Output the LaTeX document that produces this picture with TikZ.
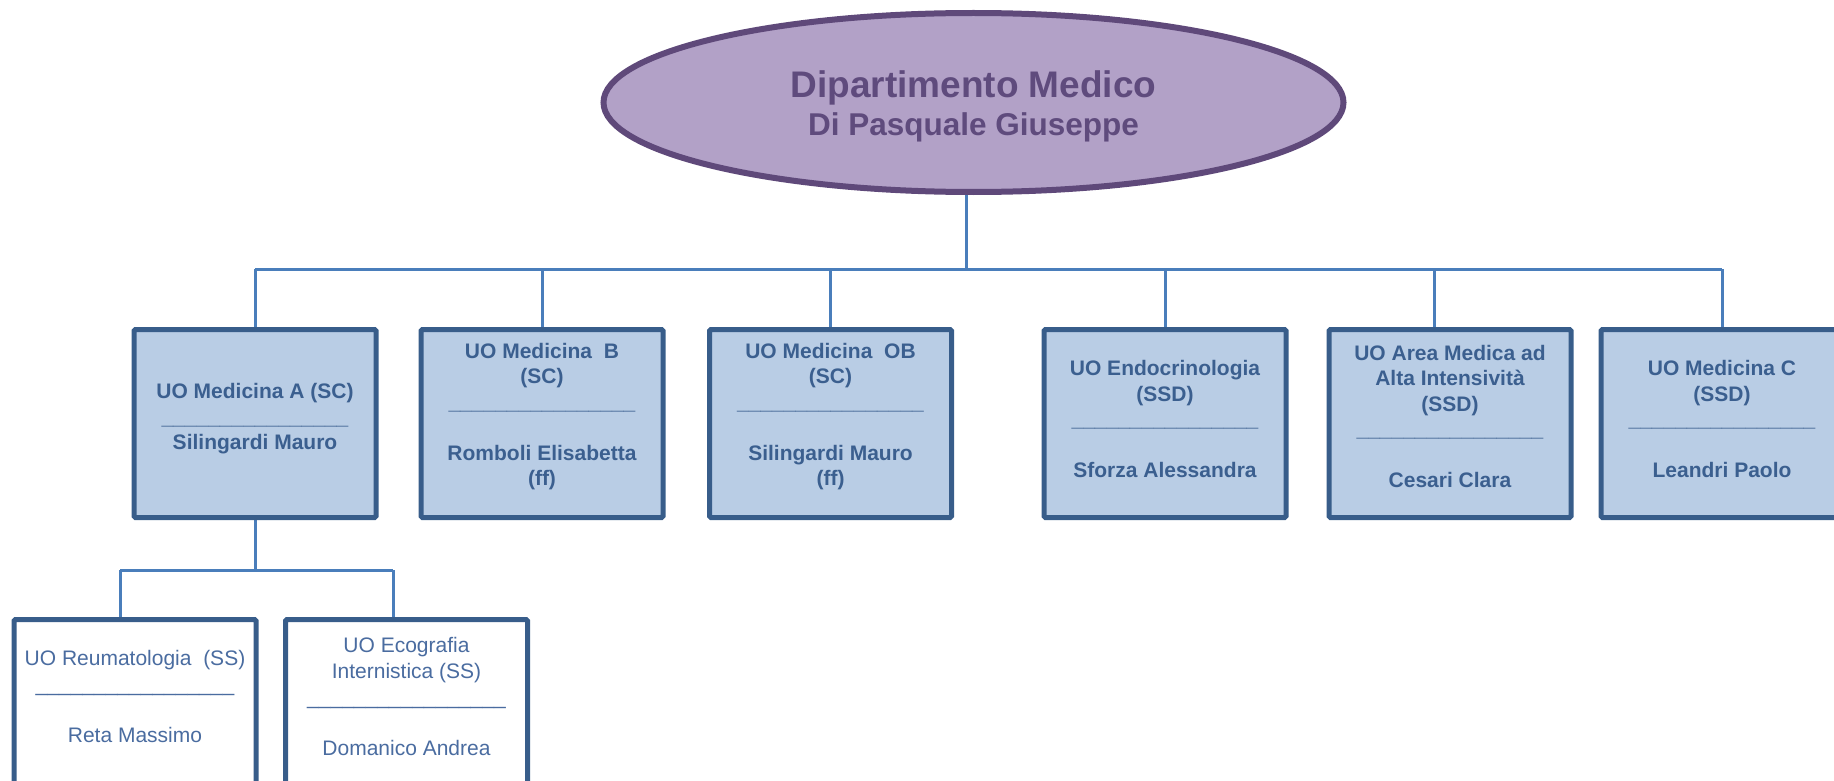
\documentclass[tikz,border=0pt]{standalone}
\usepackage{fontspec}
\setmainfont{Liberation Sans}
\usetikzlibrary{shapes.geometric,backgrounds}
\definecolor{ellfill}{HTML}{B2A1C7}
\definecolor{elldraw}{HTML}{5F497A}
\definecolor{elltext}{HTML}{5F4B7D}
\definecolor{boxfill}{HTML}{B9CDE5}
\definecolor{boxdraw}{HTML}{385D8A}
\definecolor{boxtext}{HTML}{3B5F8F}
\definecolor{subtext}{HTML}{4A6CA0}
\definecolor{conn}{HTML}{4A7EBB}
\newcommand\sepXVI{\_\_\_\_\_\_\_\_\_\_\_\_\_\_\_\_}
\newcommand\sepXVII{\_\_\_\_\_\_\_\_\_\_\_\_\_\_\_\_\_}
\begin{document}
\begin{tikzpicture}[x=1pt,y=-1pt,
  unitbox/.style={draw=boxdraw,line width=5pt,fill=boxfill,minimum width=242pt,minimum height=188pt,inner sep=0pt,rounded corners=1.5pt},
  subbox/.style={unitbox,fill=white},
  boxtxt/.style={text=boxtext,font=\fontsize{21}{25.5}\selectfont\bfseries,align=center,inner sep=0pt},
  subtxt/.style={text=subtext,font=\fontsize{21}{25.7}\selectfont,align=center,inner sep=0pt},
  link/.style={draw=conn,line width=3pt}]
\useasboundingbox (0,0) rectangle (1834,781);
\clip (0,0) rectangle (1834,781);
% head
\node[ellipse,draw=elldraw,line width=6pt,fill=ellfill,minimum width=740pt,minimum height=179pt,inner sep=0pt] (dept) at (973.5,102.5) {};
\node[text=elltext,font=\fontsize{37}{38}\selectfont\bfseries,align=center,inner sep=0pt] (dept-t) at ([yshift=-3.5pt]dept.center)
  {Dipartimento Medico\\{\fontsize{31.5}{38}\selectfont Di Pasquale Giuseppe}};
% units
\node[unitbox] (medA) at (255,423.5) {};
\node[unitbox] (medB) at (542,423.5) {};
\node[unitbox] (medOB) at (830.5,423.5) {};
\node[unitbox] (endo) at (1165,423.5) {};
\node[unitbox] (area) at (1450,423.5) {};
\node[unitbox] (medC) at (1722,423.5) {};
\node[subbox] (reuma) at (135,713.5) {};
\node[subbox] (eco) at (406.5,713.5) {};
% texts
\node[boxtxt] (medA-t) at ([yshift=4.5pt]medA.center) {UO Medicina A (SC)\\\sepXVI\\Silingardi Mauro};
\node[boxtxt] (medB-t) at ([yshift=6.8pt]medB.center) {UO Medicina~ B\\(SC)\\\sepXVI\\[25.5pt]Romboli Elisabetta\\(ff)};
\node[boxtxt] (medOB-t) at ([yshift=6.8pt]medOB.center) {UO Medicina~ OB\\(SC)\\\sepXVI\\[25.5pt]Silingardi Mauro\\(ff)};
\node[boxtxt] (endo-t) at ([yshift=4.5pt]endo.center) {UO Endocrinologia\\(SSD)\\\sepXVI\\[25.5pt]Sforza Alessandra};
\node[boxtxt] (area-t) at ([yshift=6.8pt]area.center) {UO Area Medica ad\\Alta Intensività\\(SSD)\\\sepXVI\\[25.5pt]Cesari Clara};
\node[boxtxt] (medC-t) at ([yshift=4.5pt]medC.center) {UO Medicina C\\(SSD)\\\sepXVI\\[25.5pt]Leandri Paolo};
\node[subtxt] (reuma-t) at ([yshift=17pt]reuma.center) {UO Reumatologia~ (SS)\\\sepXVII\\[25.7pt]Reta Massimo};
\node[subtxt] (eco-t) at ([yshift=17pt]eco.center) {UO Ecografia\\Internistica (SS)\\\sepXVII\\[25.7pt]Domanico Andrea};
% connectors
\coordinate (bus) at (966,269);
\coordinate (areaJ) at (1434,269);
\coordinate (subJ) at (255,570);
\coordinate (reuJ) at (120,570);
\coordinate (ecoJ) at (393,570);
\begin{scope}[on background layer]
\draw[link] (dept.south -| bus) -- (bus);
\draw[link] (medA.north |- bus) -- (medC.north |- bus);
\draw[link] (medA.north |- bus) -- (medA.north);
\draw[link] (medB.north |- bus) -- (medB.north);
\draw[link] (medOB.north |- bus) -- (medOB.north);
\draw[link] (endo.north |- bus) -- (endo.north);
\draw[link] (areaJ) -- (areaJ |- area.north);
\draw[link] (medC.north |- bus) -- (medC.north);
\draw[link] (medA.south) -- (subJ);
\draw[link] (reuJ) -- (ecoJ);
\draw[link] (reuJ) -- (reuJ |- reuma.north);
\draw[link] (ecoJ) -- (ecoJ |- eco.north);
\end{scope}
\end{tikzpicture}
\end{document}
